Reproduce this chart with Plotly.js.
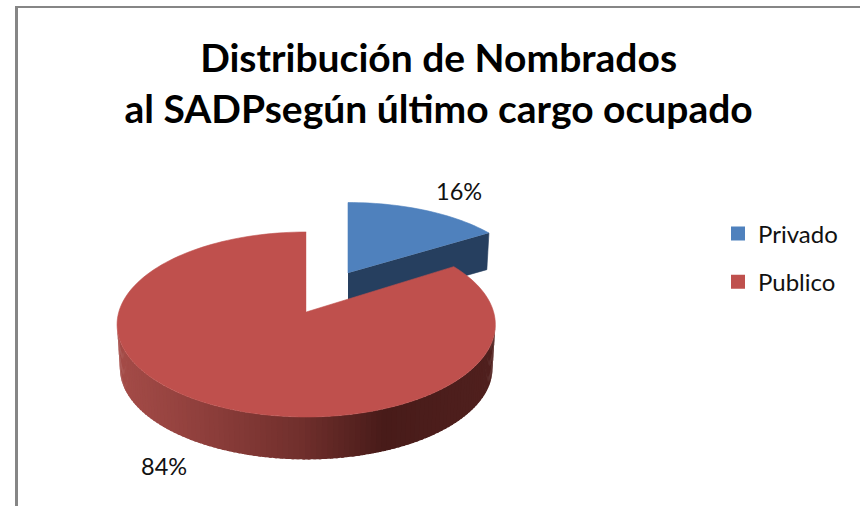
<!DOCTYPE html>
<html><head><meta charset="utf-8">
<script src="https://cdn.plot.ly/plotly-3.0.1.min.js"></script>
<style>html,body{margin:0;padding:0;background:#fff}#c{width:860px;height:506px}</style>
</head><body><div id="c"></div>
<script>
const categories = ["Privado", "Publico"];
const percentages = [16, 84];
const chartTitle = "Distribución de Nombrados<br>al SADPsegún último cargo ocupado";

const topColors = ["#4f81bd", "#bf504d"];
const cutFaceColor = "#263f5f";

// projection of the tilted pie on the page (pixels): perspective k
const K = 0.135;
const geo = {
  Privado: {x0: 348, y0: 273, a: 179, b: 80, depth: 36},
  Publico: {x0: 306.2, y0: 312, a: 187.4, b: 90.8, depth: 44}
};
function proj(g, deg, r, lower) {
  const t = deg * Math.PI / 180, X = r * Math.sin(t), Y = r * Math.cos(t), w = 1 + K * Y;
  const s = lower ? 0.985 : 1;
  return [g.x0 + s * g.a * X / w, g.y0 + (lower ? g.depth : 0) - s * g.b * Y / w];
}
function arc(g, from, to, lower, step) {
  const pts = [], n = Math.max(1, Math.round(Math.abs(to - from) / step));
  for (let i = 0; i <= n; i++) pts.push(proj(g, from + (to - from) * i / n, 1, lower));
  return pts;
}
function poly(pts, color, lw) {
  return {type: "scatter", mode: "lines", x: pts.map(p => p[0]), y: pts.map(p => p[1]),
    fill: "toself", fillcolor: color, line: {color: color, width: lw === undefined ? 0.6 : lw, simplify: false},
    showlegend: false, hoverinfo: "skip"};
}
const stops = [[116, [165, 76, 72]], [200, [143, 63, 60]], [300, [112, 47, 44]], [383, [72, 27, 25]], [495, [80, 32, 30]]];
function wallColor(x) {
  for (let i = 1; i < stops.length; i++) if (x <= stops[i][0]) {
    const [x0, c0] = stops[i - 1], [x1, c1] = stops[i], f = Math.max(0, (x - x0) / (x1 - x0));
    return "rgb(" + c0.map((c, j) => Math.round(c + (c1[j] - c) * f)).join(",") + ")";
  }
  return "rgb(80,32,30)";
}

const total = percentages.reduce((a, b) => a + b, 0);
const split = percentages[0] / total * 360;
const traces = [];

// Privado: cut face, then top
const gP = geo.Privado, gR = geo.Publico;
traces.push(poly([proj(gP, 0, 0, false), proj(gP, split, 1, false), proj(gP, split, 1, true), proj(gP, 0, 0, true)], cutFaceColor));
traces.push(poly([proj(gP, 0, 0, false), ...arc(gP, 0, split, false, 2)], topColors[0]));

// Publico: outer wall as shaded strips, then top
const wallFrom = 97.8, wallTo = 262.2, stripDeg = 1.5;
for (let d = wallFrom; d < wallTo; d += stripDeg) {
  const e = Math.min(d + stripDeg + 0.8, wallTo);
  const upper = arc(gR, d, e, false, 0.5), lower = arc(gR, e, d, true, 0.5);
  const midX = proj(gR, (d + e) / 2, 1, false)[0];
  traces.push(poly([...upper, ...lower], wallColor(midX), 0));
}
traces.push(poly([proj(gR, 0, 0, false), ...arc(gR, split, 360, false, 2)], topColors[1]));

// Legend keys
categories.forEach((c, i) => traces.push({type: "scatter", mode: "markers", name: c, legendgroup: c, x: [null], y: [null],
  marker: {symbol: "square", size: 14, color: topColors[i]}, hoverinfo: "skip"}));

const labelAnchors = [[459, 191], [164, 466]];
const layout = {
  width: 860, height: 506, margin: {l: 0, r: 0, t: 0, b: 0},
  paper_bgcolor: "#fff", plot_bgcolor: "#fff",
  xaxis: {range: [0, 860], visible: false, fixedrange: true},
  yaxis: {range: [506, 0], visible: false, fixedrange: true},
  font: {family: "Lato, sans-serif", color: "#000"},
  title: {text: "<b>" + chartTitle.replace("<br>", "</b><br><b>") + "</b>", font: {family: "Lato, sans-serif", size: 39, color: "#000"},
    x: 0.51, xanchor: "center", y: 0.858, yanchor: "top"},
  legend: {x: 718 / 860, y: 1 - 211.5 / 506, xanchor: "left", yanchor: "top", font: {size: 24, color: "#111"},
    bgcolor: "rgba(0,0,0,0)", tracegroupgap: 14, itemclick: false, itemdoubleclick: false},
  annotations: percentages.map((v, i) => ({x: labelAnchors[i][0], y: labelAnchors[i][1], xref: "x", yref: "y",
    text: v + "%", showarrow: false, font: {size: 23.5, color: "#111"}})),
  shapes: [
    {type: "line", xref: "paper", yref: "paper", x0: 15 / 860, x1: 1, y0: 1 - 7 / 506, y1: 1 - 7 / 506, line: {color: "#868686", width: 2}},
    {type: "line", xref: "paper", yref: "paper", x0: 16.5 / 860, x1: 16.5 / 860, y0: 1 - 6 / 506, y1: 0, line: {color: "#868686", width: 3}}
  ],
  showlegend: true, hovermode: false
};
Plotly.newPlot("c", traces, layout, {displayModeBar: false, staticPlot: true});
</script></body></html>
